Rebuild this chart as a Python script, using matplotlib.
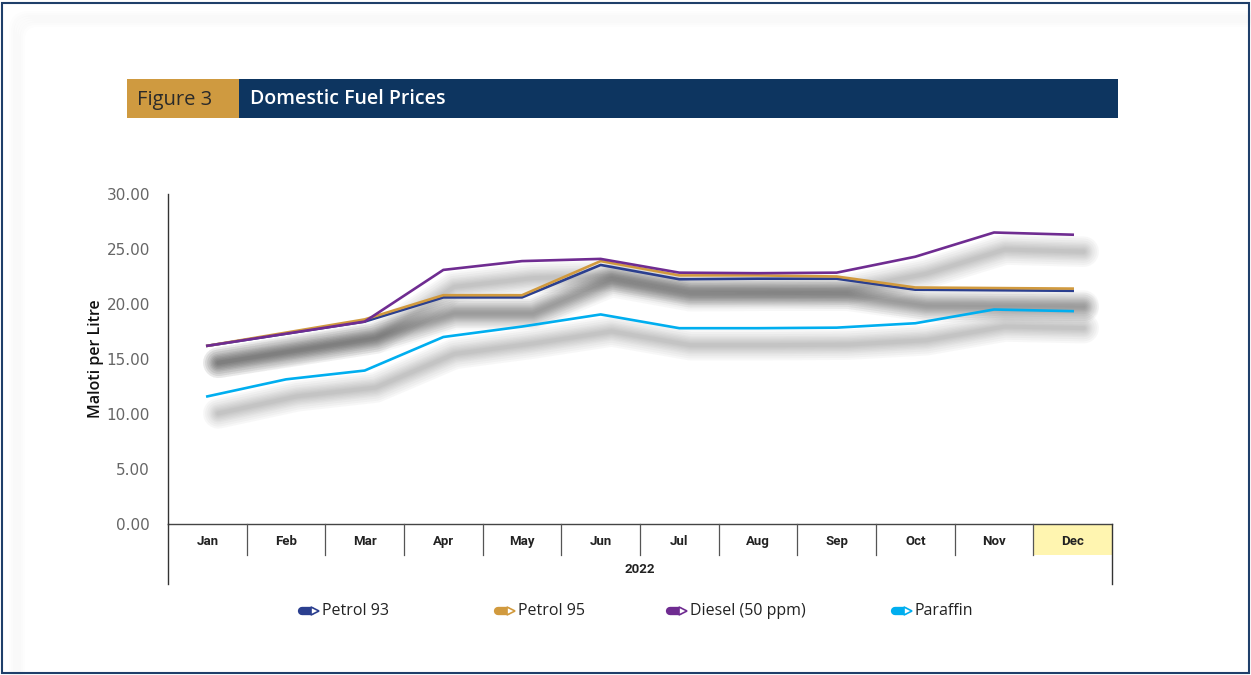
import matplotlib
matplotlib.use("Agg")
import matplotlib.pyplot as plt
import matplotlib.transforms as mtransforms
from matplotlib.patches import Rectangle, FancyBboxPatch

# data (Maloti per litre, 2022)
months = ["Jan", "Feb", "Mar", "Apr", "May", "Jun", "Jul", "Aug", "Sep", "Oct", "Nov", "Dec"]
petrol93 = [16.2, 17.3, 18.4, 20.6, 20.6, 23.55, 22.25, 22.3, 22.3, 21.3, 21.25, 21.2]
petrol95 = [16.2, 17.4, 18.6, 20.8, 20.8, 23.9, 22.6, 22.6, 22.5, 21.5, 21.45, 21.4]
diesel = [16.2, 17.3, 18.4, 23.1, 23.9, 24.1, 22.85, 22.8, 22.85, 24.3, 26.5, 26.3]
paraffin = [11.6, 13.15, 13.95, 17.0, 17.95, 19.05, 17.8, 17.8, 17.85, 18.25, 19.5, 19.35]
year_label = "2022"
series_names = ["Petrol 93", "Petrol 95", "Diesel (50 ppm)", "Paraffin"]
series_colors = ["#2B3F8F", "#D19A3E", "#6F2C91", "#00AEEF"]

W, H = 1251, 675
fig = plt.figure(figsize=(W / 100, H / 100), dpi=100)
fig.patch.set_facecolor("white")

# background / decoration layer in pixel coordinates
bg = fig.add_axes([0, 0, 1, 1], zorder=0)
bg.set_xlim(0, W)
bg.set_ylim(H, 0)
bg.axis("off")

# soft inner panel edge
for i in range(6):
    off = 10 - 2 * i
    bg.add_patch(FancyBboxPatch((22 - off, 24 - off), 1400, 800,
                                boxstyle="round,pad=0,rounding_size=16",
                                fc="none", ec="#999999", lw=4, alpha=0.018))
# outer border
bg.add_patch(Rectangle((2, 3), W - 4, H - 5, fc="none", ec="#1F3F6A", lw=1.5))

# title bar
bg.add_patch(Rectangle((127, 79), 112, 39, fc="#CF9A40", ec="none"))
bg.add_patch(Rectangle((239, 79), 879, 39, fc="#0D3560", ec="none"))
bg.text(137, 99.5, "Figure 3", fontsize=14.5, color="#2A2A2A", va="center",
        family="Open Sans")
bg.text(250, 99.5, "Domestic Fuel Prices", fontsize=14, color="white",
        va="center", family="Open Sans", fontweight="semibold")

# main chart
ax = fig.add_axes([168 / W, 1 - 524 / H, 944 / W, 330 / H], zorder=1)
ax.patch.set_visible(False)
x = list(range(len(months)))
all_series = [petrol93, petrol95, diesel, paraffin]

# blurred drop shadows (stacked translucent strokes, offset down-right)
shadow_tr = mtransforms.offset_copy(ax.transData, fig=fig, x=11, y=-17, units="dots")
for vals in all_series:
    for lw in [22, 19, 16, 13, 11, 9, 7, 5, 3]:
        ax.plot(x, vals, color="#4a4a4a", lw=lw, alpha=0.04, transform=shadow_tr,
                solid_capstyle="round", solid_joinstyle="round", zorder=1)

order = [3, 0, 1, 2]
for i in order:
    ax.plot(x, all_series[i], color=series_colors[i], lw=1.9, zorder=3,
            solid_joinstyle="round")

ax.set_xlim(-0.5, len(months) - 0.5)
ax.set_ylim(0, 30)
ax.set_yticks([0, 5, 10, 15, 20, 25, 30])
ax.set_yticklabels(["%.2f" % v for v in [0, 5, 10, 15, 20, 25, 30]],
                   fontsize=11, color="#666666", family="DejaVu Sans")
ax.tick_params(axis="y", length=0, pad=13)
ax.set_xticks([])
for s in ["top", "right", "bottom"]:
    ax.spines[s].set_visible(False)
ax.spines["left"].set_bounds(0, 30)
ax.spines["left"].set_color("#333333")
ax.spines["left"].set_linewidth(1)
ax.set_ylabel("Maloti per Litre", fontsize=11.5, color="#111111",
              family="Open Sans", fontweight="semibold", labelpad=2)

# category axis below the plot
cat_h = 31 / 330
year_h = 60 / 330
blend = mtransforms.blended_transform_factory(ax.transData, ax.transAxes)
ax.add_patch(Rectangle((len(months) - 1.5, -cat_h), 1, cat_h, transform=blend,
                       fc="#FFF5B0", ec="none", clip_on=False, zorder=0))
ax.plot([-0.5, len(months) - 0.5], [0, 0], transform=blend, color="#444444",
        lw=1, clip_on=False, zorder=2)
for b in range(1, len(months)):
    ax.plot([b - 0.5, b - 0.5], [0, -cat_h], transform=blend, color="#555555",
            lw=0.9, clip_on=False)
for side in [-0.5, len(months) - 0.5]:
    ax.plot([side, side], [0, -year_h], transform=blend, color="#333333",
            lw=1, clip_on=False)
for i, m in enumerate(months):
    ax.text(i, -cat_h / 2 - 0.006, m, transform=blend, ha="center", va="center",
            fontsize=9.5, fontweight="bold", color="#222222", family="Roboto")
ax.text(5.5, -cat_h - 0.045, year_label, transform=blend, ha="center", va="center",
        fontsize=9.5, fontweight="bold", color="#222222", family="Roboto")

# legend with pencil-like markers
leg_x = [300, 496, 668, 893]
for name, col, lx in zip(series_names, series_colors, leg_x):
    bg.plot([lx + 2, lx + 11], [611, 611], color=col, lw=6, solid_capstyle="round")
    bg.plot([lx + 15], [611], marker=">", color=col, ms=6, mfc="white", mec=col, mew=1.2)
    bg.text(lx + 22, 611, name, fontsize=11.5, color="#222222", va="center",
            family="Open Sans")

fig.savefig("out.png", dpi=100)
